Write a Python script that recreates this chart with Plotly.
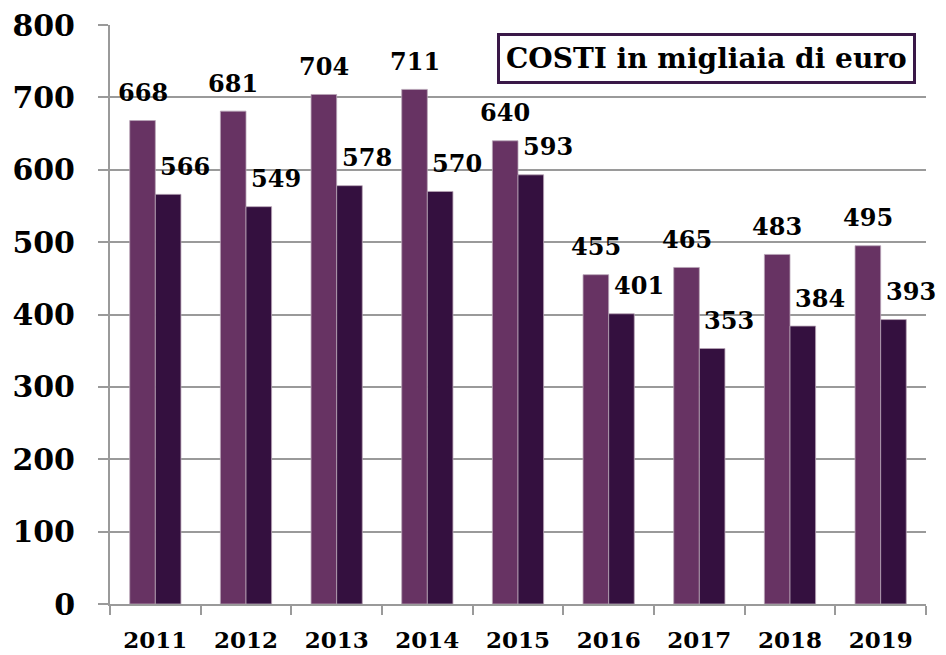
import plotly.graph_objects as go

years = ["2011", "2012", "2013", "2014", "2015", "2016", "2017", "2018", "2019"]
series_a = [668, 681, 704, 711, 640, 455, 465, 483, 495]
series_b = [566, 549, 578, 570, 593, 401, 353, 384, 393]
y_ticks = [0, 100, 200, 300, 400, 500, 600, 700, 800]
title_text = "COSTI in migliaia di euro"

FONT = "DejaVu Serif"
COL_A = "#673363"
COL_B = "#34103F"
GRID = "#9a9a9a"

fig = go.Figure()
fig.add_trace(go.Bar(x=years, y=series_a, marker=dict(color=COL_A, line=dict(color="#b8a4b6", width=0.8)), showlegend=False))
fig.add_trace(go.Bar(x=years, y=series_b, marker=dict(color=COL_B, line=dict(color="#b8a4b6", width=0.8)), showlegend=False))

bar_px = 25.6
for i, v in enumerate(series_a):
    fig.add_annotation(x=i, y=v, xref="x", yref="y", text=str(v), showarrow=False,
                       xshift=-bar_px / 2, yshift=28, yanchor="middle", xanchor="center",
                       font=dict(family=FONT, size=24, color="#000", weight="bold"))
for i, v in enumerate(series_b):
    fig.add_annotation(x=i, y=v, xref="x", yref="y", text=str(v), showarrow=False,
                       xshift=30, yshift=28, yanchor="middle", xanchor="center",
                       font=dict(family=FONT, size=24, color="#000", weight="bold"))

fig.add_annotation(x=0.7316, y=0.943, xref="paper", yref="paper", text=title_text, showarrow=False,
                   xanchor="center", yanchor="middle", bordercolor="#3a1848", borderwidth=3,
                   borderpad=6, bgcolor="white",
                   font=dict(family=FONT, size=28, color="#000", weight="bold"))

fig.update_layout(
    width=946, height=655,
    margin=dict(l=110, r=20, t=25, b=51),
    paper_bgcolor="white", plot_bgcolor="white",
    barmode="group", bargap=0.435, bargroupgap=0,
    xaxis=dict(type="category", range=[-0.5, 8.5], showline=True, linecolor=GRID, linewidth=2,
               ticks="outside", tickson="boundaries", ticklen=9, tickwidth=2, tickcolor=GRID,
               tickangle=0, automargin=False, ticklabelstandoff=14,
               tickfont=dict(family=FONT, size=23, color="#000", weight="bold"), showgrid=False),
    yaxis=dict(range=[0, 800], tickvals=y_ticks, ticktext=[str(t) for t in y_ticks],
               showline=True, linecolor=GRID, linewidth=2, automargin=False,
               showgrid=True, gridcolor=GRID, gridwidth=2, zeroline=False,
               ticks="outside", ticklen=10, tickwidth=2, tickcolor=GRID,
               ticklabelstandoff=17,
               tickfont=dict(family=FONT, size=30, color="#000", weight="bold")),
)

fig.write_html("out.html")
